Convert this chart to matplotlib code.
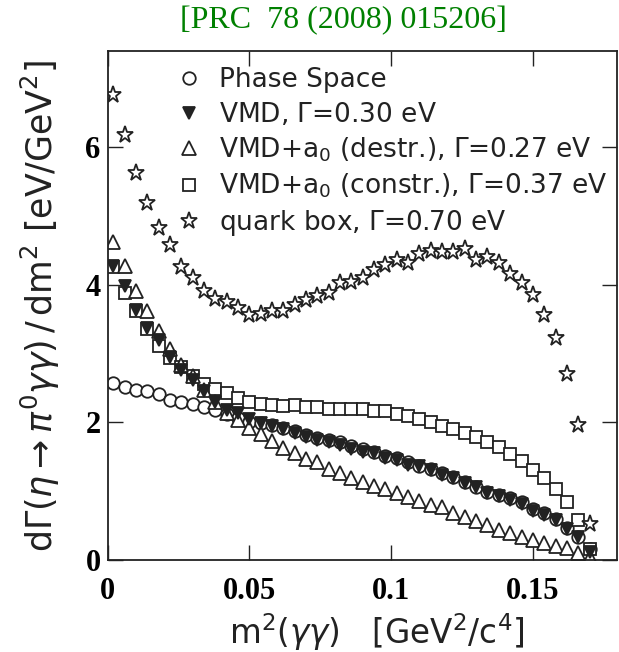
import matplotlib
matplotlib.use("Agg")
import matplotlib.pyplot as plt

plt.rcParams['mathtext.fontset'] = 'dejavusans'

# bin centres, m^2(gamma gamma) [GeV^2/c^4]
m2 = [0.002, 0.006, 0.010, 0.014, 0.018, 0.022, 0.026, 0.030, 0.034, 0.038,
      0.042, 0.046, 0.050, 0.054, 0.058, 0.062, 0.066, 0.070, 0.074, 0.078,
      0.082, 0.086, 0.090, 0.094, 0.098, 0.102, 0.106, 0.110, 0.114, 0.118,
      0.122, 0.126, 0.130, 0.134, 0.138, 0.142, 0.146, 0.150, 0.154, 0.158,
      0.162, 0.166, 0.170]

phase_space = [2.57, 2.51, 2.47, 2.45, 2.41, 2.33, 2.30, 2.27, 2.22, 2.18,
               2.12, 2.06, 2.01, 1.99, 1.96, 1.92, 1.87, 1.82, 1.78, 1.74,
               1.71, 1.66, 1.61, 1.57, 1.51, 1.48, 1.42, 1.37, 1.33, 1.26,
               1.21, 1.13, 1.06, 0.99, 0.95, 0.90, 0.84, 0.75, 0.68, 0.60,
               0.47, 0.34, 0.16]

vmd = [4.27, 3.98, 3.63, 3.37, 3.20, 2.95, 2.76, 2.62, 2.45, 2.30,
       2.18, 2.13, 2.05, 1.99, 1.95, 1.90, 1.85, 1.79, 1.75, 1.72,
       1.67, 1.62, 1.57, 1.55, 1.48, 1.45, 1.38, 1.36, 1.31, 1.24,
       1.19, 1.12, 1.06, 0.97, 0.93, 0.87, 0.81, 0.72, 0.66, 0.58,
       0.46, 0.33, 0.12]

vmd_destr = [4.62, 4.27, 3.90, 3.61, 3.32, 3.06, 2.83, 2.67, 2.47, 2.29,
             2.13, 2.03, 1.92, 1.83, 1.73, 1.63, 1.55, 1.47, 1.42, 1.32,
             1.26, 1.19, 1.14, 1.08, 1.03, 0.97, 0.91, 0.86, 0.80, 0.77,
             0.68, 0.62, 0.57, 0.51, 0.44, 0.40, 0.33, 0.30, 0.25, 0.20,
             0.17, 0.10, 0.05]

vmd_constr = [4.26, 3.88, 3.61, 3.35, 3.11, 2.93, 2.80, 2.67, 2.56, 2.49,
              2.43, 2.35, 2.29, 2.27, 2.25, 2.24, 2.25, 2.23, 2.23, 2.20,
              2.20, 2.20, 2.20, 2.17, 2.16, 2.12, 2.09, 2.05, 2.01, 1.95,
              1.91, 1.85, 1.79, 1.72, 1.65, 1.54, 1.44, 1.31, 1.19, 1.03,
              0.85, 0.58, 0.16]

quark_box = [6.75, 6.17, 5.62, 5.19, 4.82, 4.57, 4.26, 4.10, 3.90, 3.79,
             3.74, 3.66, 3.56, 3.58, 3.62, 3.61, 3.70, 3.78, 3.83, 3.88,
             4.03, 4.04, 4.09, 4.21, 4.28, 4.35, 4.32, 4.45, 4.49, 4.47,
             4.47, 4.51, 4.35, 4.40, 4.32, 4.16, 4.02, 3.85, 3.56, 3.22,
             2.70, 1.96, 0.53]

labels = ["Phase Space",
          r"VMD, $\Gamma$=0.30 eV",
          r"VMD+a$_0$ (destr.), $\Gamma$=0.27 eV",
          r"VMD+a$_0$ (constr.), $\Gamma$=0.37 eV",
          r"quark box, $\Gamma$=0.70 eV"]

xticks = [0, 0.05, 0.1, 0.15]
xticklabels = ["0", "0.05", "0.1", "0.15"]
yticks = [0, 2, 4, 6]

ec = "#222222"
fig = plt.figure(figsize=(6.19, 6.52), dpi=100)
ax = fig.add_axes([107.5 / 619, 91.8 / 652, 509 / 619, 509.2 / 652])

kw = dict(linestyle="none", markeredgecolor=ec, markeredgewidth=1.3)
ax.plot(m2, phase_space, marker="o", markersize=9, markerfacecolor="white", label=labels[0], **kw)
ax.plot(m2, vmd_constr, marker="s", markersize=9, markerfacecolor="white", label=labels[3], **kw)
ax.plot(m2, vmd_destr, marker="^", markersize=9.5, markerfacecolor="white", label=labels[2], **kw)
ax.plot(m2, vmd, marker="v", markersize=8.5, markerfacecolor=ec, label=labels[1], **kw)
ax.plot(m2, quark_box, marker="*", markersize=12.5, markerfacecolor="white", label=labels[4], **kw)

ax.set_xlim(0, 0.1795)
ax.set_ylim(0, 7.39)
ax.set_xticks(xticks)
ax.set_xticklabels(xticklabels)
ax.set_yticks(yticks)
ax.tick_params(direction="in", length=11, width=1.0, top=True, right=True,
               labelsize=22, color=ec)
ax.tick_params(axis="x", pad=12)
ax.tick_params(axis="y", pad=5)
for lab in ax.get_xticklabels() + ax.get_yticklabels():
    lab.set_family("Liberation Serif")
    lab.set_fontweight("bold")
for s in ax.spines.values():
    s.set_linewidth(1.3)
    s.set_color(ec)

ax.set_ylabel(r"d$\Gamma(\eta\rightarrow\pi^0\gamma\gamma)\,/\,$dm$^2$ [eV/GeV$^2$]",
              fontsize=25, color=ec)
ax.yaxis.set_label_coords(-0.09, 0.5)
ax.set_xlabel(r"m$^2(\gamma\gamma)$   [GeV$^2$/c$^4$]", fontsize=23.5, color=ec)
ax.xaxis.set_label_coords(0.53, -0.1)

h, l = ax.get_legend_handles_labels()
order = [0, 3, 2, 1, 4]
ax.legend([h[i] for i in order], [l[i] for i in order], loc="upper left",
          bbox_to_anchor=(0.135, 0.968), frameon=False, fontsize=19,
          handlelength=1.0, handletextpad=0.64, borderpad=0, borderaxespad=0,
          labelspacing=0.29, numpoints=1, labelcolor=ec)

fig.text(343 / 619, 1 - 21 / 652, "[PRC  78 (2008) 015206]", color="green",
         family="Liberation Serif", fontsize=23, ha="center", va="center")

fig.savefig("out.png", dpi=100)
